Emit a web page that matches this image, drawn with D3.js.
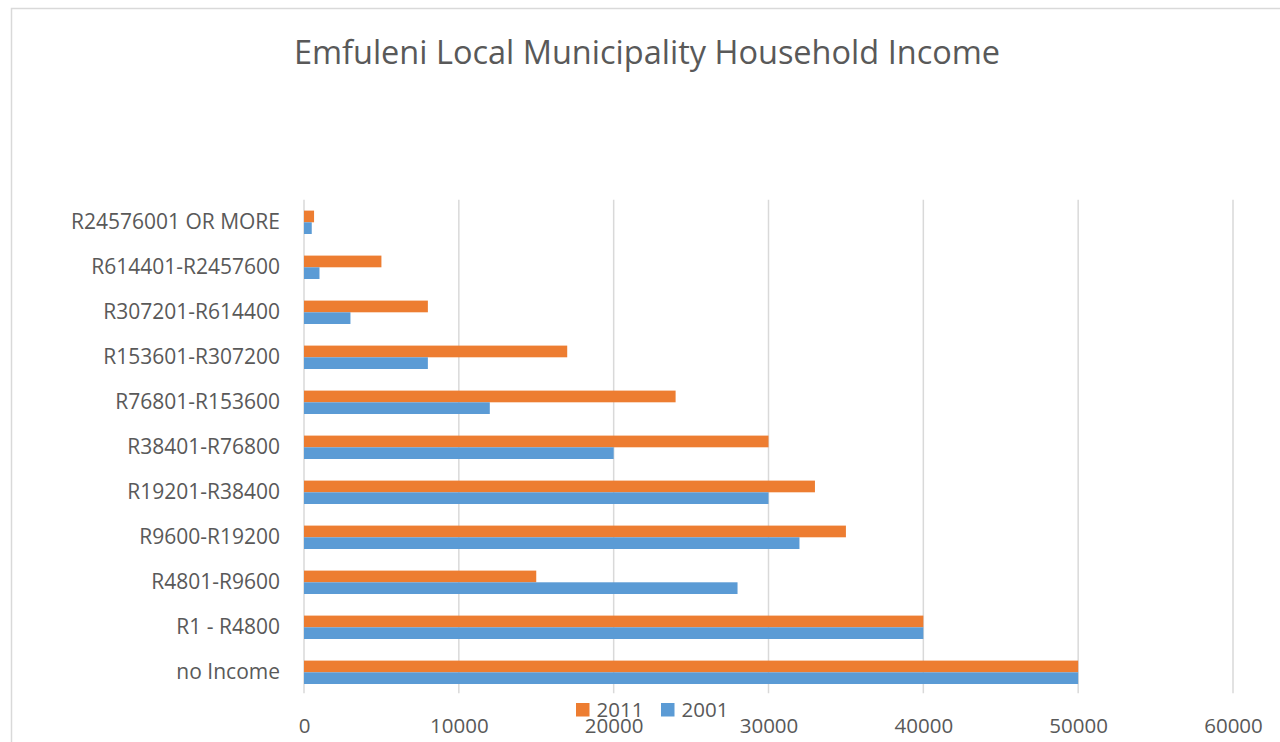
<!DOCTYPE html>
<html>
<head>
<meta charset="utf-8">
<script src="https://cdn.jsdelivr.net/npm/d3@7"></script>
<style>
  html, body { margin: 0; padding: 0; background: #fff; }
  svg { display: block; font-family: "Open Sans", sans-serif; }
</style>
</head>
<body>
<svg id="chart" width="1280" height="742"></svg>
<script>
// Household income bands, listed bottom to top as they appear on the chart
const categories = [
  "no Income",
  "R1 - R4800",
  "R4801-R9600",
  "R9600-R19200",
  "R19201-R38400",
  "R38401-R76800",
  "R76801-R153600",
  "R153601-R307200",
  "R307201-R614400",
  "R614401-R2457600",
  "R24576001 OR MORE"
];
const series = ["2011", "2001"];
const values2011 = [50000, 40000, 15000, 35000, 33000, 30000, 24000, 17000, 8000, 5000, 650];
const values2001 = [50000, 40000, 28000, 32000, 30000, 20000, 12000, 8000, 3000, 1000, 500];
const xTicks = [0, 10000, 20000, 30000, 40000, 50000, 60000];
const colors = { "2011": "#ED7D31", "2001": "#5B9BD5" };

const svg = d3.select("#chart");
const textColor = "#595959";
const gridColor = "#d9d9d9";

// Chart frame
svg.append("rect")
  .attr("x", 11.5).attr("y", 8.5)
  .attr("width", 1290).attr("height", 760)
  .attr("fill", "#fff")
  .attr("stroke", gridColor).attr("stroke-width", 1.5);

// Title
svg.append("text")
  .attr("x", 647).attr("y", 64)
  .attr("text-anchor", "middle")
  .attr("fill", textColor)
  .attr("font-size", 32.5)
  .text("Emfuleni Local Municipality Household Income");

const plot = { left: 304, right: 1233, top: 199.8, bottom: 694.8 };

const x = d3.scaleLinear().domain([0, 60000]).range([plot.left, plot.right]);

// Top category is drawn first, so reverse the domain for the band scale
const y = d3.scaleBand()
  .domain(categories.slice().reverse())
  .range([plot.top, plot.bottom])
  .paddingInner(0.48)
  .paddingOuter(0.24);

const ySub = d3.scaleBand().domain(series).range([0, y.bandwidth()]);

// Vertical gridlines
svg.append("g")
  .selectAll("line")
  .data(xTicks)
  .join("line")
  .attr("x1", d => x(d)).attr("x2", d => x(d))
  .attr("y1", plot.top).attr("y2", plot.bottom - 1.5)
  .attr("stroke", gridColor).attr("stroke-width", 1.5);

// Bars
const rows = categories.map((c, i) => ({ cat: c, "2011": values2011[i], "2001": values2001[i] }));
const groups = svg.append("g")
  .selectAll("g")
  .data(rows)
  .join("g")
  .attr("transform", d => `translate(0,${y(d.cat)})`);

groups.selectAll("rect")
  .data(d => series.map(s => ({ s, v: d[s] })))
  .join("rect")
  .attr("x", x(0))
  .attr("y", d => ySub(d.s))
  .attr("width", d => x(d.v) - x(0))
  .attr("height", ySub.bandwidth())
  .attr("fill", d => colors[d.s]);

// Category axis labels
const yAxis = d3.axisLeft(y).tickSize(0).tickPadding(24);
const yg = svg.append("g")
  .attr("transform", `translate(${plot.left},0)`)
  .call(yAxis);
yg.select(".domain").remove();
yg.selectAll("text")
  .attr("fill", textColor)
  .attr("font-size", 21)
  .attr("font-family", "Open Sans, sans-serif");

// Value axis labels
const xAxis = d3.axisBottom(x).tickValues(xTicks).tickFormat(d3.format("d")).tickSize(0).tickPadding(24);
const xg = svg.append("g")
  .attr("transform", `translate(0,${plot.bottom})`)
  .call(xAxis);
xg.select(".domain").remove();
xg.selectAll("text")
  .attr("fill", textColor)
  .attr("font-size", 20.5)
  .attr("font-family", "Open Sans, sans-serif");

// Legend
const legend = svg.append("g").attr("transform", "translate(576,703)");
const legendItems = legend.selectAll("g")
  .data(series)
  .join("g")
  .attr("transform", (d, i) => `translate(${i * 85},0)`);
legendItems.append("rect")
  .attr("width", 13.5).attr("height", 13.5)
  .attr("fill", d => colors[d]);
legendItems.append("text")
  .attr("x", 20.5).attr("y", 14)
  .attr("fill", textColor)
  .attr("font-size", 20.5)
  .text(d => d);
</script>
</body>
</html>
